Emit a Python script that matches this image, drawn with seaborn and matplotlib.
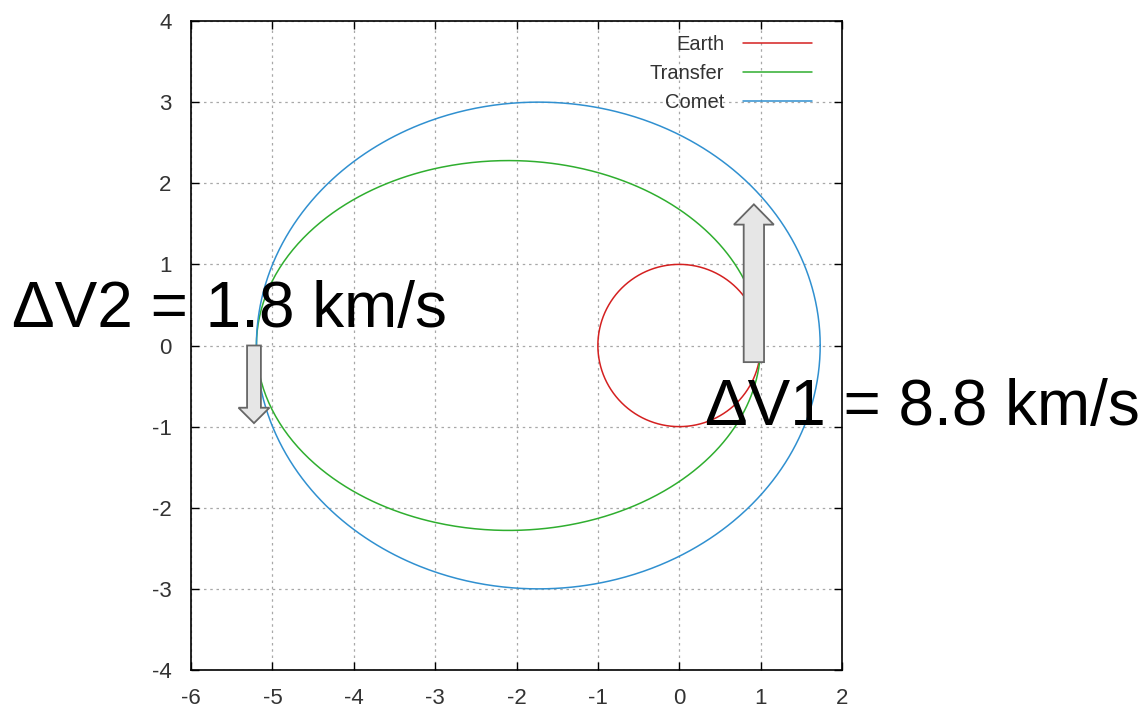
import numpy as np
import pandas as pd
import matplotlib
matplotlib.use("Agg")
import matplotlib.pyplot as plt
import seaborn as sns

# ---- data: orbits given by perihelion / aphelion distances (focus at origin) ----
orbit_names = ["Earth", "Transfer", "Comet"]
perihelion = [1.0, 1.0, 1.732]
aphelion = [1.0, 5.196, 5.196]
orbit_colors = ["#d42020", "#2fae2f", "#3090d0"]

# delta-v labels
dv_labels = ["\u0394V2 = 1.8 km/s", "\u0394V1 = 8.8 km/s"]

x_ticks = [-6, -5, -4, -3, -2, -1, 0, 1, 2]
y_ticks = [-4, -3, -2, -1, 0, 1, 2, 3, 4]

sns.set_theme(style="white")
plt.rcParams["font.family"] = ["Liberation Sans", "DejaVu Sans"]
plt.rcParams["axes.unicode_minus"] = False

fig = plt.figure(figsize=(11.44, 7.10), dpi=100)
ax = fig.add_axes([191 / 1144, 40 / 710, 651 / 1144, 649 / 710])

theta = np.linspace(0, 2 * np.pi, 721)
rows = []
for name, q, Q in zip(orbit_names, perihelion, aphelion):
    a = (q + Q) / 2
    e = (Q - q) / (Q + q)
    r = a * (1 - e ** 2) / (1 + e * np.cos(theta))
    rows.append(pd.DataFrame({"x": r * np.cos(theta), "y": r * np.sin(theta),
                              "orbit": name, "order": np.arange(len(theta))}))
df = pd.concat(rows, ignore_index=True)

sns.lineplot(data=df, x="x", y="y", hue="orbit", hue_order=orbit_names,
             palette=orbit_colors, sort=False, estimator=None, units="orbit",
             lw=1.1, ax=ax, legend=True, zorder=3)

ax.set_xlim(-6, 2)
ax.set_ylim(-4, 4)
ax.set_xticks(x_ticks)
ax.set_yticks(y_ticks)
ax.set_xlabel("")
ax.set_ylabel("")
ax.grid(True, color="#a8a8a8", linestyle=(0, (2, 3)), lw=0.9)
for s in ax.spines.values():
    s.set_color("black")
    s.set_linewidth(1.2)
    s.set_visible(True)
ax.tick_params(direction="in", length=6, width=1.0, color="black",
               top=True, right=True, bottom=True, left=True,
               labelsize=16, labelcolor="#333333")
ax.tick_params(axis="x", pad=13)
ax.tick_params(axis="y", pad=14)

leg = ax.legend(loc="upper right", frameon=False, markerfirst=False,
                fontsize=14.5, handlelength=3.4, handletextpad=0.95,
                labelspacing=0.5, borderaxespad=0.3,
                bbox_to_anchor=(0.975, 1.0))
for t in leg.get_texts():
    t.set_color("#333333")

# delta-v arrows
arrow_kw = dict(length_includes_head=True, facecolor="#e6e6e6",
                edgecolor="#666666", lw=1.3, zorder=5)
ax.arrow(0.917, -0.205, 0, 1.945, width=0.25, head_width=0.49,
         head_length=0.25, **arrow_kw)
ax.arrow(-5.226, 0.0, 0, -0.957, width=0.17, head_width=0.38,
         head_length=0.19, **arrow_kw)

fig.text(12 / 1144, (710 - 327) / 710, dv_labels[0], fontsize=46,
         color="black", ha="left", va="baseline")
fig.text(705 / 1144, (710 - 425) / 710, dv_labels[1], fontsize=46,
         color="black", ha="left", va="baseline")

fig.savefig("out.png", dpi=100)
